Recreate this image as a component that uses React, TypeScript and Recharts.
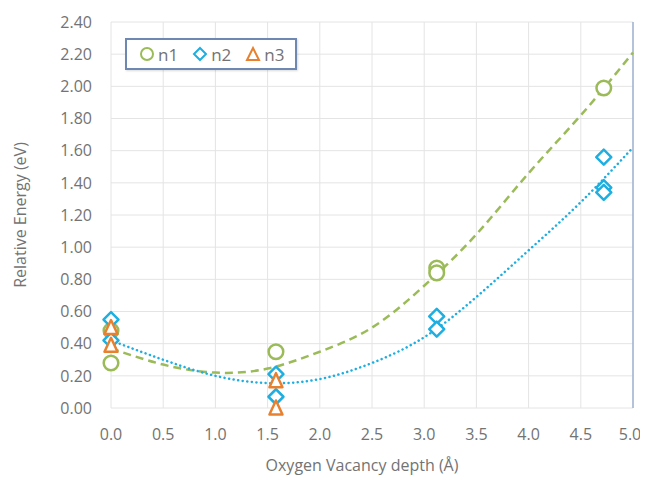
import React from 'react';
import {
  ComposedChart,
  Scatter,
  Line,
  XAxis,
  YAxis,
  CartesianGrid,
  ReferenceLine,
} from 'recharts';

// Observed data points (x: oxygen vacancy depth in Å, y: relative energy in eV)
const n1Points = [
  { x: 0, y: 0.48 },
  { x: 0, y: 0.28 },
  { x: 1.58, y: 0.35 },
  { x: 3.12, y: 0.87 },
  { x: 3.12, y: 0.84 },
  { x: 4.72, y: 1.99 },
];
const n2Points = [
  { x: 0, y: 0.55 },
  { x: 0, y: 0.42 },
  { x: 1.58, y: 0.21 },
  { x: 1.58, y: 0.07 },
  { x: 3.12, y: 0.57 },
  { x: 3.12, y: 0.49 },
  { x: 4.72, y: 1.56 },
  { x: 4.72, y: 1.37 },
  { x: 4.72, y: 1.34 },
];
const n3Points = [
  { x: 0, y: 0.5 },
  { x: 0, y: 0.39 },
  { x: 1.58, y: 0.17 },
  { x: 1.58, y: 0.0 },
];

// Trend curves
const n1Trend = [
  { x: 0, y: 0.37 },
  { x: 0.5, y: 0.27 },
  { x: 1.0, y: 0.22 },
  { x: 1.5, y: 0.245 },
  { x: 2.0, y: 0.35 },
  { x: 2.5, y: 0.5 },
  { x: 3.0, y: 0.76 },
  { x: 3.5, y: 1.08 },
  { x: 4.0, y: 1.46 },
  { x: 4.5, y: 1.82 },
  { x: 5.0, y: 2.21 },
];
const n2Trend = [
  { x: 0, y: 0.42 },
  { x: 0.5, y: 0.3 },
  { x: 1.0, y: 0.2 },
  { x: 1.5, y: 0.155 },
  { x: 2.0, y: 0.18 },
  { x: 2.5, y: 0.28 },
  { x: 3.0, y: 0.44 },
  { x: 3.5, y: 0.69 },
  { x: 4.0, y: 0.98 },
  { x: 4.5, y: 1.28 },
  { x: 5.0, y: 1.62 },
];

const xTicks = [0, 0.5, 1.0, 1.5, 2.0, 2.5, 3.0, 3.5, 4.0, 4.5, 5.0];
const yTicks = [0, 0.2, 0.4, 0.6, 0.8, 1.0, 1.2, 1.4, 1.6, 1.8, 2.0, 2.2, 2.4];
const legendLabels = ['n1', 'n2', 'n3'];

const GREEN = '#9bbb59';
const BLUE = '#1eaee0';
const ORANGE = '#e8812f';
const TEXT = '#737373';
const FONT = '"Open Sans", sans-serif';

const CircleShape = (props: any) => {
  const { cx, cy } = props;
  if (cx == null || cy == null) return null;
  return <circle cx={cx} cy={cy} r={7.3} fill="#fff" stroke={GREEN} strokeWidth={2.5} />;
};
const DiamondShape = (props: any) => {
  const { cx, cy } = props;
  if (cx == null || cy == null) return null;
  const s = 7.5;
  return (
    <path
      d={`M${cx},${cy - s} L${cx + s},${cy} L${cx},${cy + s} L${cx - s},${cy} Z`}
      fill="#fff"
      stroke={BLUE}
      strokeWidth={2.5}
      strokeLinejoin="round"
    />
  );
};
const TriangleShape = (props: any) => {
  const { cx, cy } = props;
  if (cx == null || cy == null) return null;
  const h = 7.5;
  return (
    <path
      d={`M${cx},${cy - h} L${cx + 6.5},${cy + h - 1} L${cx - 6.5},${cy + h - 1} Z`}
      fill="#fff"
      stroke={ORANGE}
      strokeWidth={2.5}
      strokeLinejoin="round"
    />
  );
};

const LegendBox = () => (
  <div
    style={{
      position: 'absolute',
      left: 117,
      top: 30,
      width: 168,
      height: 28,
      border: '2px solid #6f88b2',
      background: '#fff',
      boxShadow: '1px 1px 2px rgba(0,0,0,0.15)',
      display: 'flex',
      alignItems: 'center',
      fontFamily: FONT,
      fontSize: 17,
      color: TEXT,
      boxSizing: 'content-box',
      lineHeight: 1,
    }}
  >
    <svg width={16} height={16} style={{ marginLeft: 12 }}>
      <circle cx={8} cy={8} r={6} fill="#fff" stroke={GREEN} strokeWidth={2} />
    </svg>
    <span style={{ marginLeft: 3 }}>{legendLabels[0]}</span>
    <svg width={16} height={16} style={{ marginLeft: 14 }}>
      <path d="M8,2 L14,8 L8,14 L2,8 Z" fill="#fff" stroke={BLUE} strokeWidth={2} />
    </svg>
    <span style={{ marginLeft: 3 }}>{legendLabels[1]}</span>
    <svg width={16} height={16} style={{ marginLeft: 14 }}>
      <path d="M8,2 L14,14 L2,14 Z" fill="#fff" stroke={ORANGE} strokeWidth={2} />
    </svg>
    <span style={{ marginLeft: 3 }}>{legendLabels[2]}</span>
  </div>
);

const YLabel = (props: any) => {
  const vb = props.viewBox || {};
  const x = 12;
  const y = (vb.y ?? 14) + (vb.height ?? 386) / 2;
  return (
    <text
      x={x}
      y={y}
      transform={`rotate(-90 ${x} ${y})`}
      textAnchor="middle"
      dominantBaseline="central"
      fill={TEXT}
      fontFamily={FONT}
      fontSize={16}
    >
      Relative Energy (eV)
    </text>
  );
};

const XLabel = (props: any) => {
  const vb = props.viewBox || {};
  const x = (vb.x ?? 103) + (vb.width ?? 522) / 2 - 10;
  return (
    <text
      x={x}
      y={457}
      textAnchor="middle"
      dominantBaseline="central"
      fill={TEXT}
      fontFamily={FONT}
      fontSize={16}
    >
      Oxygen Vacancy depth (Å)
    </text>
  );
};

export default function App() {
  return (
    <div style={{ position: 'relative', width: 632, height: 468, overflow: 'visible' }}>
      <style>{`.recharts-surface { overflow: visible; } .recharts-wrapper { overflow: visible; }`}</style>
      <ComposedChart
        width={632}
        height={468}
        margin={{ top: 14, right: 7, bottom: 0, left: 0 }}
        style={{ fontFamily: FONT }}
      >
        <CartesianGrid stroke="#e4e4e4" strokeWidth={1} />
        <XAxis
          type="number"
          dataKey="x"
          domain={[0, 5]}
          ticks={xTicks}
          tickFormatter={(v: number) => v.toFixed(1)}
          tick={{ fill: TEXT, fontSize: 16, fontFamily: FONT }}
          axisLine={false}
          tickLine={false}
          tickSize={0}
          tickMargin={21}
          height={68}
          label={<XLabel />}
        />
        <YAxis
          type="number"
          dataKey="y"
          domain={[0, 2.4]}
          ticks={yTicks}
          tickFormatter={(v: number) => v.toFixed(2)}
          tick={{ fill: TEXT, fontSize: 16, fontFamily: FONT }}
          axisLine={false}
          tickLine={false}
          tickSize={0}
          tickMargin={19}
          width={103}
          label={<YLabel />}
        />
        <ReferenceLine x={5} stroke="#9fb3d1" strokeWidth={1.5} />
        <Line
          data={n1Trend}
          dataKey="y"
          type="natural"
          stroke={GREEN}
          strokeWidth={2.5}
          strokeDasharray="8 5"
          dot={false}
          activeDot={false}
          legendType="none"
          isAnimationActive={false}
        />
        <Line
          data={n2Trend}
          dataKey="y"
          type="natural"
          stroke={BLUE}
          strokeWidth={2.5}
          strokeDasharray="0.1 4.5"
          strokeLinecap="round"
          dot={false}
          activeDot={false}
          legendType="none"
          isAnimationActive={false}
        />
        <Scatter name="n1" data={n1Points} shape={<CircleShape />} isAnimationActive={false} />
        <Scatter name="n2" data={n2Points} shape={<DiamondShape />} isAnimationActive={false} />
        <Scatter name="n3" data={n3Points} shape={<TriangleShape />} isAnimationActive={false} />
      </ComposedChart>
      <LegendBox />
    </div>
  );
}
